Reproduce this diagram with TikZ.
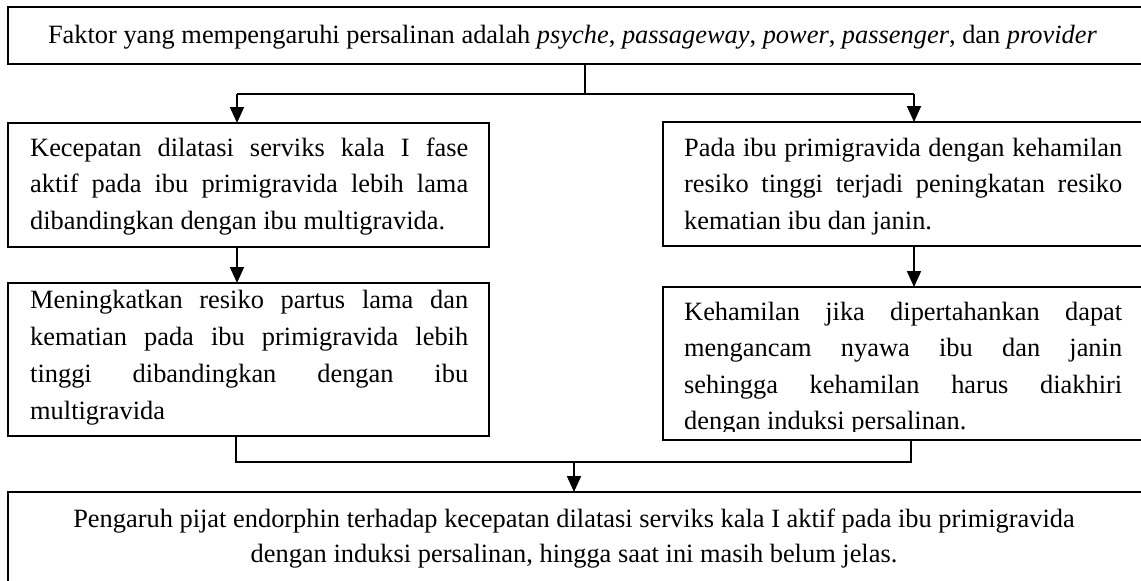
\documentclass[tikz,border=0pt]{standalone}
\usepackage{fontspec}
\setmainfont{Liberation Serif}
\usetikzlibrary{arrows.meta}
\begin{document}
\begin{tikzpicture}[x=1pt,y=-1pt,
  box/.style={draw, line width=1.8pt, inner sep=0pt, outer sep=0pt, anchor=north west},
  txt/.style={inner sep=0pt, anchor=base west, font=\fontsize{26.4}{36.5}\selectfont},
  ctxt/.style={inner sep=0pt, anchor=base, font=\fontsize{26.4}{35}\selectfont},
  conn/.style={line width=1.8pt},
  arr/.style={conn, -{Triangle[width=14pt,length=16pt]}}]
\useasboundingbox (0,0) rectangle (1141,581);
% boxes
\node[box, minimum width=1140pt, minimum height=57pt] (top) at (8,7) {};
\node[box, minimum width=481pt, minimum height=124pt] (A) at (8,123) {};
\node[box, minimum width=484pt, minimum height=124pt] (B) at (663,122) {};
\node[box, minimum width=481pt, minimum height=153pt] (C) at (8,283) {};
\node[box, minimum width=484pt, minimum height=153pt] (D) at (663,287) {};
\node[box, minimum width=1140pt, minimum height=100pt] (bot) at (8,492) {};
% texts
\node[ctxt] (tT) at (572.5,43) {Faktor yang mempengaruhi persalinan adalah \textit{psyche}, \textit{passageway}, \textit{power}, \textit{passenger}, dan \textit{provider}};
\node[txt] (tA) at (30,156) {\parbox[t]{438pt}{\sloppy\hyphenpenalty=10000 Kecepatan dilatasi serviks kala I fase\linebreak aktif pada ibu primigravida lebih lama\linebreak dibandingkan dengan ibu multigravida.}};
\node[txt] (tB) at (684,156) {\parbox[t]{438pt}{\sloppy\hyphenpenalty=10000 Pada ibu primigravida dengan kehamilan\linebreak resiko tinggi terjadi peningkatan resiko\linebreak kematian ibu dan janin.}};
\begin{scope}
\clip (8,283) rectangle (489,424);
\node[txt] (tC) at (30,308) {\parbox[t]{438pt}{\sloppy\hyphenpenalty=10000\fontsize{26.4}{37}\selectfont Meningkatkan resiko partus lama dan\linebreak kematian pada ibu primigravida lebih\linebreak tinggi dibandingkan dengan ibu\linebreak multigravida}};
\end{scope}
\begin{scope}
\clip (663,287) rectangle (1141,431);
\node[txt] (tD) at (684,320) {\parbox[t]{438pt}{\sloppy\hyphenpenalty=10000 Kehamilan jika dipertahankan dapat\linebreak mengancam nyawa ibu dan janin\linebreak sehingga kehamilan harus diakhiri\linebreak dengan induksi persalinan.}};
\end{scope}
\node[ctxt] (tE) at (574,527) {\parbox[t]{1100pt}{\centering Pengaruh pijat endorphin terhadap kecepatan dilatasi serviks kala I aktif pada ibu primigravida\\ dengan induksi persalinan, hingga saat ini masih belum jelas.}};
% junction coordinates
\coordinate (j1) at (585,94);
\coordinate (jL) at (237,94);
\coordinate (jR) at (914,94);
\coordinate (k1) at (574,462);
\coordinate (kL) at (236,462);
\coordinate (kR) at (911,462);
% connectors
\draw[conn] (top.south -| j1) -- (j1);
\draw[conn] (jL) -- (jR);
\draw[arr] (jL) -- (A.north -| jL);
\draw[arr] (jR) -- (B.north -| jR);
\draw[arr] (A.south -| jL) -- (C.north -| jL);
\draw[arr] (B.south -| jR) -- (D.north -| jR);
\draw[conn] (C.south -| kL) -- (kL) -- (kR) -- (D.south -| kR);
\draw[arr] (k1) -- (bot.north -| k1);
\end{tikzpicture}
\end{document}
